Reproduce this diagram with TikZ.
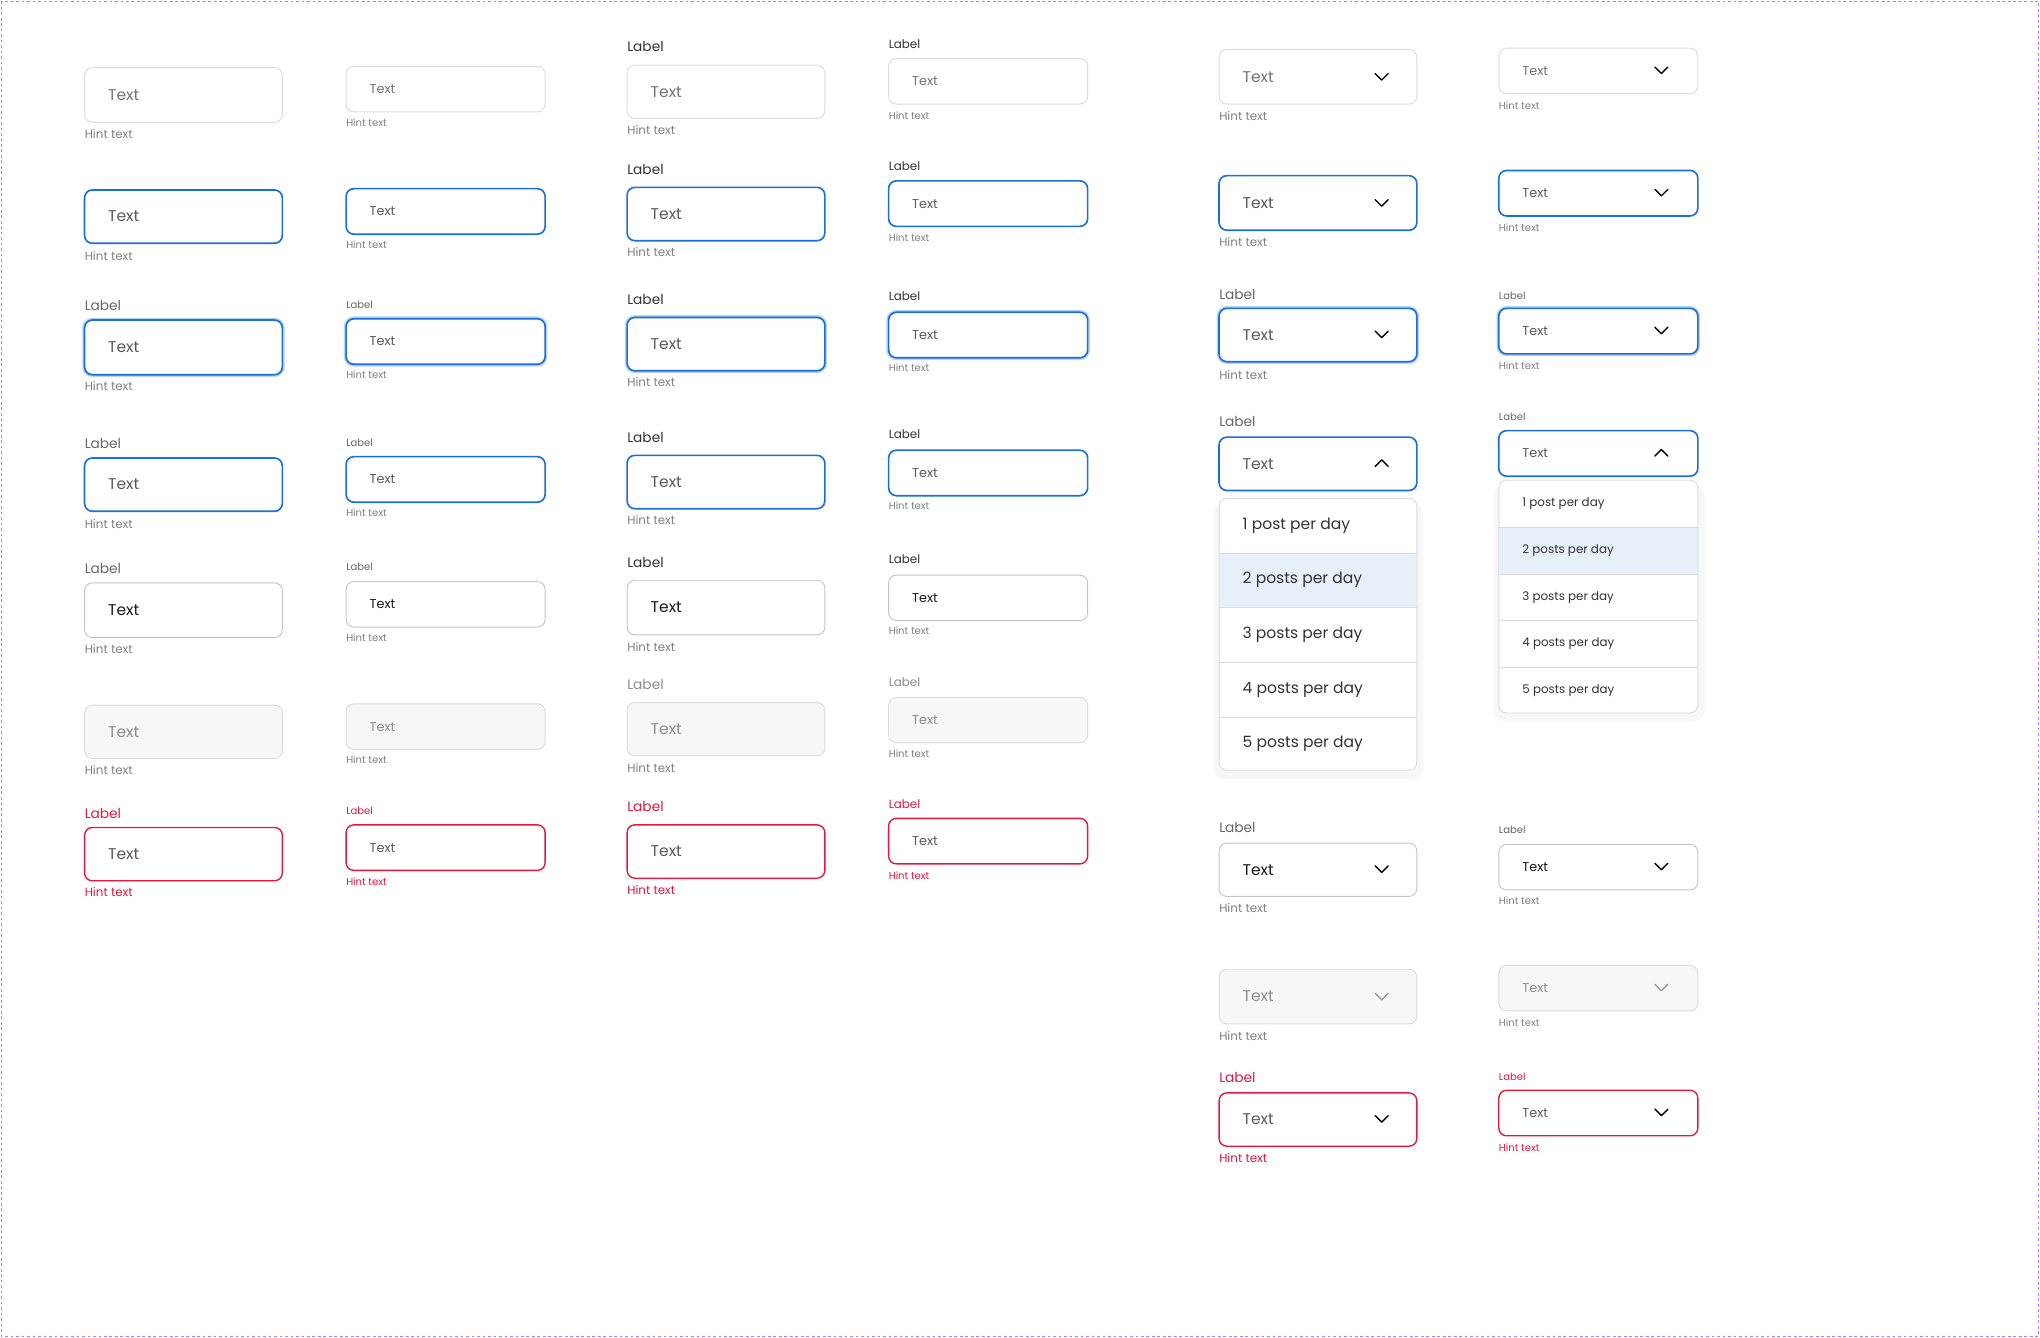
\documentclass[tikz,border=0pt]{standalone}
\usepackage{fontspec}
\setmainfont{Poppins}
\usepackage{tikz}
\definecolor{gbord}{HTML}{DCDCDC}
\definecolor{fbord}{HTML}{C4C4C4}
\definecolor{blu}{HTML}{1A6FD8}
\definecolor{glow}{HTML}{B9D3F5}
\definecolor{red}{HTML}{E8163C}
\definecolor{dis}{HTML}{F7F7F7}
\definecolor{hl}{HTML}{E7EFF8}
\definecolor{frame}{HTML}{B77CF2}
\newcommand\fT{\fontsize{17}{19}\selectfont}
\newcommand\fS{\fontsize{13}{15}\selectfont}
\newcommand\fL{\fontsize{15}{17}\selectfont}
\newcommand\lblc{black!60}
% field: x1, x2, type, label y (0 = none), top, bottom, hint y
\newcommand\field[7]{%
  \ifx f#3\draw[glow,line width=5pt,rounded corners=0.3cm] (#1,#5) rectangle (#2,#6);\fi
  \draw[box-#3] (#1,#5) rectangle (#2,#6);
  \node[txt-#3,anchor=west] at (#1+18,{(#5+#6)/2}) {Text};
  \ifnum#4>0 \node[lbl-#3,anchor=west] at (#1,#4) {Label};\fi
  \node[hint-#3,anchor=west] at (#1,#7) {Hint text};}
% chevron: centre x, centre y, +1 down / -1 up
\newcommand\chev[4][black]{\draw[#1,line width=1.5pt,line cap=round,line join=round]
  (#2-5,#3-2.5*#4) -- (#2,#3+2.5*#4) -- (#2+5,#3-2.5*#4);}
\tikzset{
  box/.style={rounded corners=0.3cm,line width=1pt},
  box-d/.style={box,draw=gbord,fill=white},
  box-b/.style={box,draw=blu,line width=1.8pt},
  box-f/.style={box,draw=blu,line width=1.8pt,fill=white},
  box-l/.style={box,draw=fbord,fill=white},
  box-x/.style={box,draw=gbord,fill=dis},
  box-r/.style={box,draw=red,line width=1.5pt},
  txt/.style={inner sep=0pt,font=\fT},
  txt-d/.style={txt,text=black!55},
  txt-b/.style={txt,text=black!65},
  txt-f/.style={txt,text=black!65},
  txt-l/.style={txt,text=black!90},
  txt-x/.style={txt,text=black!45},
  txt-r/.style={txt,text=black!65},
  lbl/.style={inner sep=0pt,font=\fL,text=\lblc},
  lbl-d/.style={lbl}, lbl-b/.style={lbl}, lbl-f/.style={lbl},
  lbl-l/.style={lbl}, lbl-x/.style={lbl,text=black!45}, lbl-r/.style={lbl,text=red},
  hint/.style={inner sep=0pt,font=\fS,text=black!50},
  hint-d/.style={hint}, hint-b/.style={hint}, hint-f/.style={hint},
  hint-l/.style={hint}, hint-x/.style={hint}, hint-r/.style={hint,text=red},
  item/.style={inner sep=0pt,anchor=west,text=black!80},
  menu/.style={draw=gbord,fill=white,rounded corners=0.3cm,line width=1pt},
  shade/.style={fill=black!3,rounded corners=0.4cm}
}
\begin{document}
\begin{tikzpicture}[x=0.05cm,y=-0.05cm]
\useasboundingbox (0,0) rectangle (1568,1028);
\draw[frame,dashed,line width=1pt] (1,1) rectangle (1567,1027);

% column A
\field{65}{217}{d}{0}{52}{94}{103}
\field{65}{217}{b}{0}{146}{187}{197}
\field{65}{217}{f}{235}{246}{288}{297}
\field{65}{217}{b}{341}{352}{393}{403}
\field{65}{217}{l}{437}{448}{490}{499}
\field{65}{217}{x}{0}{542}{583}{592}
\field{65}{217}{r}{625}{636}{677}{686}

% column B
\begin{scope}
\renewcommand\fT{\fontsize{14}{16}\selectfont}
\renewcommand\fS{\fontsize{11}{13}\selectfont}
\renewcommand\fL{\fontsize{11}{13}\selectfont}
\field{266}{419}{d}{0}{51}{86}{94}
\field{266}{419}{b}{0}{145}{180}{188}
\field{266}{419}{f}{234}{245}{280}{288}
\field{266}{419}{b}{340}{351}{386}{394}
\field{266}{419}{l}{436}{447}{482}{490}
\field{266}{419}{x}{0}{541}{576}{584}
\field{266}{419}{r}{623}{634}{669}{678}
\end{scope}

% column C
\begin{scope}
\renewcommand\lblc{black!80}
\field{482}{634}{d}{36}{50}{91}{100}
\field{482}{634}{b}{130}{144}{185}{194}
\field{482}{634}{f}{230}{244}{285}{294}
\field{482}{634}{b}{336}{350}{391}{400}
\field{482}{634}{l}{432}{446}{488}{497}
\field{482}{634}{x}{526}{540}{581}{590}
\field{482}{634}{r}{620}{634}{675}{684}
\end{scope}

% column D
\begin{scope}
\renewcommand\lblc{black!80}
\renewcommand\fT{\fontsize{14}{16}\selectfont}
\renewcommand\fS{\fontsize{11}{13}\selectfont}
\renewcommand\fL{\fontsize{13}{15}\selectfont}
\field{683}{836}{d}{34}{45}{80}{89}
\field{683}{836}{b}{128}{139}{174}{183}
\field{683}{836}{f}{228}{240}{275}{283}
\field{683}{836}{b}{334}{346}{381}{389}
\field{683}{836}{l}{430}{442}{477}{485}
\field{683}{836}{x}{524}{536}{571}{579}
\field{683}{836}{r}{618}{629}{664}{673}
\end{scope}

% column E (dropdowns)
\field{937}{1089}{d}{0}{38}{80}{89}
\field{937}{1089}{b}{0}{135}{177}{186}
\field{937}{1089}{f}{226}{237}{278}{288}
\draw[box-f] (937,336) rectangle (1089,377);
\node[txt-b,anchor=west] (selE) at (955,357) {Text};
\node[lbl,anchor=west] at (937,324) {Label};
\field{937}{1089}{l}{636}{648}{689}{698}
\field{937}{1089}{x}{0}{745}{787}{796}
\field{937}{1089}{r}{828}{840}{881}{890}
\foreach \y in {59,156,257,668,860} {\chev{1062}{\y}{1}}
\chev[black!40]{1062}{766}{1}
\chev{1062}{356}{-1}
\fill[shade] (933,387) rectangle (1094,599);
\draw[menu] (937,383) rectangle (1089,592);
\fill[hl] (937.5,425) rectangle (1088.5,467);
\foreach \y in {425,467,509,551} {\draw[gbord] (937,\y) -- (1089,\y);}
\foreach \t [count=\i] in {1 post per day,2 posts per day,3 posts per day,4 posts per day,5 posts per day}
  {\node[item,font=\fT] (mE\i) at (955,362+42*\i) {\t};}

% column F (dropdowns)
\begin{scope}
\renewcommand\fT{\fontsize{14}{16}\selectfont}
\renewcommand\fS{\fontsize{11}{13}\selectfont}
\renewcommand\fL{\fontsize{11}{13}\selectfont}
\field{1152}{1305}{d}{0}{37}{72}{81}
\field{1152}{1305}{b}{0}{131}{166}{175}
\field{1152}{1305}{f}{227}{237}{272}{281}
\draw[box-b] (1152,331) rectangle (1305,366);
\node[txt-b,anchor=west] (selF) at (1170,348.5) {Text};
\node[lbl,anchor=west] at (1152,320) {Label};
\field{1152}{1305}{l}{638}{649}{684}{692}
\field{1152}{1305}{x}{0}{742}{777}{786}
\field{1152}{1305}{r}{828}{838}{873}{882}
\foreach \y in {54,148,254,666,855} {\chev{1277}{\y}{1}}
\chev[black!40]{1277}{759}{1}
\chev{1277}{348}{-1}
\fill[shade] (1148,373) rectangle (1310,554);
\draw[menu] (1152,369) rectangle (1305,548);
\fill[hl] (1152.5,405) rectangle (1304.5,441);
\foreach \y in {405,441,477,513} {\draw[gbord] (1152,\y) -- (1305,\y);}
\foreach \t [count=\i] in {1 post per day,2 posts per day,3 posts per day,4 posts per day,5 posts per day}
  {\node[item,font=\fontsize{13}{15}\selectfont] (mF\i) at (1170,351+36*\i) {\t};}
\end{scope}
\end{tikzpicture}
\end{document}
